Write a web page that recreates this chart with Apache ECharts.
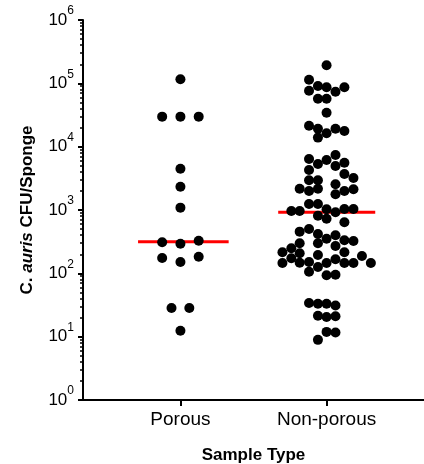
<!DOCTYPE html>
<html>
<head>
<meta charset="utf-8">
<script src="https://cdn.jsdelivr.net/npm/echarts@6.0.0/dist/echarts.min.js"></script>
<style>
  html, body { margin: 0; padding: 0; background: #fff; }
  #main { width: 424px; height: 464px; }
</style>
</head>
<body>
<div id="main"></div>
<script>
// category tick labels along the x axis (8 slots, groups sit at x = 1 and x = 2)
var xSlots = ['', '', 'Porous', '', '', 'Non-porous', '', ''];

// CFU per sponge, with the column offset of each dot
var porousCfu = [116000, 29800, 29800, 29800, 4490, 2330, 1090, 309, 294, 328, 175, 151, 183, 28.4, 28.4, 12.4];
var porousOffset = [0, -0.125, 0, 0.125, 0, 0, 0, -0.125, 0, 0.125, -0.125, 0, 0.125, -0.061, 0.061, 0];

var nonPorousCfu = [
  193000, 114000, 90800, 86600, 76500, 73800, 86600, 57200, 57200, 34400,
  21400, 19200, 16300, 19200, 17700, 13900,
  6390, 5330, 6160, 7390, 4950, 5590, 4280, 3700, 3200, 2940,
  2940, 2550, 2170, 2000, 2170, 2000, 2120, 1770, 1240, 1240,
  965, 965, 1030, 920, 1040, 1040, 813, 729, 640,
  455, 501, 418, 352, 399, 332, 324, 298, 249, 298,
  270, 215, 207, 215, 173, 195, 167, 188,
  146, 147, 151, 126, 146, 146, 146, 146, 106, 93, 95,
  34, 33, 33, 31, 21.4, 20.5, 21, 11.9, 11.6, 8.9
];
var nonPorousOffset = [
  0, -0.120, -0.059, 0, -0.120, 0.061, 0.122, -0.059, 0, 0,
  -0.120, -0.059, 0, 0.061, 0.122, -0.059,
  -0.120, -0.059, 0, 0.061, 0.061, 0.122, -0.120, 0.122, 0.184, -0.120,
  -0.059, 0.061, -0.184, -0.120, -0.059, 0.122, 0.184, 0.061, -0.120, -0.059,
  -0.241, -0.184, 0, 0.061, 0.122, 0.184, -0.059, 0, 0.122,
  -0.184, -0.120, -0.059, 0, 0.061, 0.122, 0.184, -0.184, -0.241, -0.059,
  0.061, -0.302, -0.184, 0.122, -0.241, -0.059, 0.061, 0.242,
  -0.302, -0.184, -0.120, -0.059, 0, 0.122, 0.184, 0.303, -0.120, 0, 0.061,
  -0.120, -0.059, 0, 0.061, -0.059, 0, 0.061, 0, 0.061, -0.059
];

// medians (red bars)
var porousMedian = 316;
var nonPorousMedian = 920;

var FONT = '"Liberation Sans", Arial, Helvetica, sans-serif';

function toPoints(center, offsets, values) {
  return values.map(function (v, i) { return [center + offsets[i], v]; });
}

var chart = echarts.init(document.getElementById('main'), null, { renderer: 'canvas' });

var option = {
  backgroundColor: '#fff',
  animation: false,
  grid: { left: 83, right: 0, top: 20, bottom: 64, containLabel: false, outerBoundsMode: 'none' },
  xAxis: [
    {
      // data axis for the dots (1/3 .. 8/3)
      type: 'value',
      min: 1 / 3,
      max: 8 / 3,
      splitLine: { show: false },
      axisLine: { show: true, onZero: false, lineStyle: { color: '#000', width: 2 } },
      axisTick: { show: false },
      axisLabel: { show: false }
    },
    {
      // tick / label axis
      type: 'category',
      position: 'bottom',
      boundaryGap: false,
      data: xSlots,
      name: 'Sample Type',
      nameLocation: 'middle',
      nameGap: 47,
      nameTextStyle: { fontFamily: FONT, fontSize: 17, fontWeight: 'bold', color: '#000' },
      splitLine: { show: false },
      axisLine: { show: false },
      axisTick: {
        show: true,
        length: 6,
        interval: function (i, v) { return v !== ''; },
        lineStyle: { color: '#000', width: 2 }
      },
      axisLabel: {
        interval: 0,
        margin: 10,
        fontFamily: FONT,
        fontSize: 19,
        color: '#000'
      }
    }
  ],
  yAxis: {
    type: 'log',
    logBase: 10,
    min: 1,
    max: 1000000,
    position: 'left',
    name: '{n|C. }{i|auris}{n| CFU/Sponge}',
    nameLocation: 'middle',
    nameGap: 47,
    nameTextStyle: {
      rich: {
        n: { fontFamily: FONT, fontSize: 17, fontWeight: 'bold', color: '#000' },
        i: { fontFamily: FONT, fontSize: 17, fontWeight: 'bold', fontStyle: 'italic', color: '#000' }
      }
    },
    splitLine: { show: false },
    minorSplitLine: { show: false },
    axisLine: { show: true, onZero: false, lineStyle: { color: '#000', width: 2 } },
    axisTick: { show: true, length: 5, lineStyle: { color: '#000', width: 2 } },
    minorTick: { show: true, splitNumber: 9, length: 3, lineStyle: { color: '#000', width: 1.5 } },
    axisLabel: {
      margin: 9,
      formatter: function (v) {
        return '{b|10}{s|' + Math.round(Math.log10(v)) + '}';
      },
      rich: {
        b: { fontFamily: FONT, fontSize: 17, lineHeight: 30, color: '#000' },
        s: { fontFamily: FONT, fontSize: 12, lineHeight: 12, verticalAlign: 'top', color: '#000' }
      }
    }
  },
  series: [
    {
      name: 'Porous median',
      type: 'line',
      symbol: 'none',
      z: 1,
      lineStyle: { color: '#ff0000', width: 3 },
      data: [[0.71, porousMedian], [1.33, porousMedian]]
    },
    {
      name: 'Non-porous median',
      type: 'line',
      symbol: 'none',
      z: 1,
      lineStyle: { color: '#ff0000', width: 3 },
      data: [[1.669, nonPorousMedian], [2.333, nonPorousMedian]]
    },
    {
      name: 'Porous',
      type: 'scatter',
      symbol: 'circle',
      symbolSize: 10,
      z: 3,
      itemStyle: { color: '#000', opacity: 1 },
      data: toPoints(1, porousOffset, porousCfu)
    },
    {
      name: 'Non-porous',
      type: 'scatter',
      symbol: 'circle',
      symbolSize: 10,
      z: 3,
      itemStyle: { color: '#000', opacity: 1 },
      data: toPoints(2, nonPorousOffset, nonPorousCfu)
    }
  ]
};

chart.setOption(option);
</script>
</body>
</html>
